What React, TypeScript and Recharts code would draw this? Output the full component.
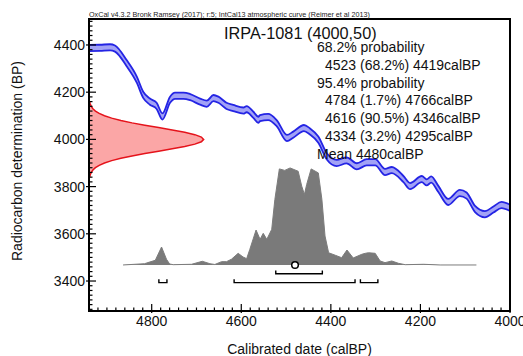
import React from 'react';
import { ComposedChart, Area, Line, Scatter, XAxis, YAxis, ReferenceArea, Label } from 'recharts';

const W = 523;
const H = 356;
const X_MIN = 4000;
const X_MAX = 4940;
const Y_MIN = 3273;
const Y_MAX = 4510;

// IntCal13 curve, calBP -> radiocarbon BP
const curveCal = [4939, 4915, 4893, 4882, 4856, 4833, 4819, 4804, 4789, 4776, 4759, 4748, 4729, 4714, 4692, 4677, 4662, 4651, 4633, 4618, 4595, 4588, 4573, 4562, 4558, 4540, 4521, 4498, 4484, 4460, 4447, 4428, 4409, 4387, 4365, 4342, 4320, 4301, 4279, 4264, 4238, 4223, 4197, 4186, 4176, 4160, 4138, 4112, 4097, 4078, 4056, 4037, 4019, 4000];
const curveBP = [4387, 4388, 4390, 4385, 4323, 4252, 4189, 4160, 4142, 4097, 4168, 4185, 4185, 4179, 4160, 4151, 4175, 4168, 4142, 4133, 4122, 4128, 4104, 4083, 4090, 4095, 4069, 4006, 4020, 4048, 4034, 3999, 3928, 3900, 3911, 3886, 3903, 3903, 3862, 3870, 3832, 3802, 3832, 3818, 3830, 3790, 3735, 3773, 3762, 3705, 3683, 3703, 3722, 3710];
const CURVE_ERR = 13;

// measured date 4000 +/- 50 BP, relative probability
const dateBP = [4160, 4150, 4140, 4130, 4120, 4110, 4100, 4090, 4080, 4070, 4060, 4050, 4040, 4030, 4020, 4010, 4000, 3990, 3980, 3970, 3960, 3950, 3940, 3930, 3920, 3910, 3900, 3890, 3880, 3870, 3860, 3850, 3840];
const dateProb = [0.006, 0.011, 0.02, 0.034, 0.056, 0.089, 0.135, 0.198, 0.278, 0.375, 0.487, 0.607, 0.726, 0.835, 0.923, 0.98, 1, 0.98, 0.923, 0.835, 0.726, 0.607, 0.487, 0.375, 0.278, 0.198, 0.135, 0.089, 0.056, 0.034, 0.02, 0.011, 0.006];

// calibrated distribution, % of peak
const distCal = [4864, 4816, 4804, 4792, 4778, 4767, 4760, 4752, 4711, 4687, 4670, 4659, 4644, 4633, 4622, 4607, 4596, 4588, 4581, 4567, 4558, 4551, 4543, 4532, 4525, 4515, 4503, 4491, 4473, 4465, 4459, 4454, 4444, 4428, 4420, 4413, 4405, 4390, 4376, 4364, 4350, 4331, 4323, 4316, 4301, 4290, 4279, 4264, 4249, 4234, 4193, 4156, 4075];
const distProb = [0, 1.3, 3.1, 4.8, 18.5, 5.9, 1.0, 0.3, 0.7, 3.8, 1.3, 0.5, 3.4, 3.4, 5.9, 12, 8.2, 6.5, 16, 36, 26.4, 32.6, 26.4, 36.7, 67.5, 99, 97.5, 100, 96.6, 81.2, 72.7, 82.9, 99, 94.9, 67.5, 29.8, 12.6, 10, 7.5, 15.4, 7.2, 11, 12, 12.6, 12, 4.1, 2.4, 4.1, 1.7, 0.3, 0.7, 0, 0];

const ranges68 = [[4523, 4419]];
const ranges95 = [[4784, 4766], [4616, 4346], [4334, 4295]];
const MEAN = 4480;

const xMajor = [4800, 4600, 4400, 4200, 4000];
const yMajor = [3400, 3600, 3800, 4000, 4200, 4400];

const title = 'IRPA-1081 (4000,50)';
const header = 'OxCal v4.3.2 Bronk Ramsey (2017); r:5; IntCal13 atmospheric curve (Reimer et al 2013)';
const probLines = [
  { text: '68.2% probability', indent: false },
  { text: '4523 (68.2%) 4419calBP', indent: true },
  { text: '95.4% probability', indent: false },
  { text: '4784 (1.7%) 4766calBP', indent: true },
  { text: '4616 (90.5%) 4346calBP', indent: true },
  { text: '4334 (3.2%) 4295calBP', indent: true },
  { text: 'Mean 4480calBP', indent: false },
];

// drawing constants
const DATE_WIDTH = 256; // calBP units for peak of the red curve
const DIST_BASE = 3468;
const DIST_SCALE = 4.11; // BP per % of peak
const B95 = 3393;
const B68 = 3431;
const BTICK = 14;

const FONT = '"Liberation Sans", Arial, sans-serif';

const curveData = curveCal.map((x, i) => ({ x, lo: curveBP[i] - CURVE_ERR, hi: curveBP[i] + CURVE_ERR }));
const dateData = dateBP.map((y, i) => ({ x: X_MAX - dateProb[i] * DATE_WIDTH, y }));
const distData = distCal.map((x, i) => ({ x, y: DIST_BASE + distProb[i] * DIST_SCALE }));
const bracket = (r: number[], base: number) => [
  { x: r[0], y: base + BTICK },
  { x: r[0], y: base },
  { x: r[1], y: base },
  { x: r[1], y: base + BTICK },
];

const xTicks: number[] = [];
for (let v = X_MIN; v <= X_MAX; v += 20) xTicks.push(v);
const yTicks: number[] = [];
for (let v = 3280; v <= 4500; v += 20) yTicks.push(v);

const XTick = (props: any) => {
  const { x, y, payload } = props;
  const major = xMajor.includes(payload.value);
  return (
    <g>
      <line x1={x} x2={x} y1={y + (major ? 2 : 0)} y2={y - (major ? 7 : 3.5)} stroke="#000" strokeWidth={1.2} />
      {major && (
        <text x={x} y={y + 15} textAnchor="middle" fontSize={14} fontFamily={FONT} fill="#111">
          {payload.value}
        </text>
      )}
    </g>
  );
};

const YTick = (props: any) => {
  const { x, y, payload } = props;
  const major = yMajor.includes(payload.value);
  return (
    <g>
      <line x1={x - (major ? 3 : 0)} x2={x + (major ? 7 : 3.5)} y1={y} y2={y} stroke="#000" strokeWidth={1.2} />
      {major && (
        <text x={x - 4} y={y + 5} textAnchor="end" fontSize={14} fontFamily={FONT} fill="#111">
          {payload.value}
        </text>
      )}
    </g>
  );
};

const App: React.FC = () => {
  return (
    <div style={{ position: 'absolute', left: 0, top: 0, width: W, height: H, background: '#fff' }}>
      <ComposedChart width={W} height={H} margin={{ top: 19, right: 13, bottom: 0, left: 0 }}>
        <XAxis
          type="number"
          dataKey="x"
          domain={[X_MIN, X_MAX]}
          reversed
          allowDataOverflow
          ticks={xTicks}
          interval={0}
          tickSize={0}
          tickMargin={0}
          tickLine={false}
          axisLine={false}
          tick={<XTick />}
          height={45}
        >
          <Label
            content={(p: any) => {
              const vb = p.viewBox;
              return (
                <text x={vb.x + vb.width / 2} y={vb.y + 43} textAnchor="middle" fontSize={14} fontFamily={FONT} fill="#111">
                  Calibrated date (calBP)
                </text>
              );
            }}
          />
        </XAxis>
        <YAxis
          type="number"
          dataKey="y"
          domain={[Y_MIN, Y_MAX]}
          allowDataOverflow
          ticks={yTicks}
          interval={0}
          tickSize={0}
          tickMargin={0}
          tickLine={false}
          axisLine={false}
          tick={<YTick />}
          width={89}
        >
          <Label
            content={() => (
              <text x={22} y={161} transform="rotate(-90 22 161)" textAnchor="middle" fontSize={14} fontFamily={FONT} fill="#111">
                Radiocarbon determination (BP)
              </text>
            )}
          />
        </YAxis>

        <Area
          data={dateData}
          dataKey="y"
          type="linear"
          baseValue={3840}
          stroke="#e5131b"
          strokeWidth={1.5}
          fill="#fba6a6"
          fillOpacity={1}
          isAnimationActive={false}
          dot={false}
          activeDot={false}
        />
        <Area
          data={curveData}
          dataKey={(d: any) => [d.lo, d.hi]}
          type="monotone"
          stroke="#2424e4"
          strokeWidth={1.8}
          fill="#a2a2f6"
          fillOpacity={1}
          isAnimationActive={false}
          dot={false}
          activeDot={false}
        />
        <Area
          data={distData}
          dataKey="y"
          type="linear"
          baseValue={DIST_BASE}
          stroke="#7c7c7c"
          strokeWidth={1}
          fill="#7a7a7a"
          fillOpacity={1}
          isAnimationActive={false}
          dot={false}
          activeDot={false}
        />
        {ranges68.map((r, i) => (
          <Line key={`r68-${i}`} data={bracket(r, B68)} dataKey="y" type="linear" stroke="#000" strokeWidth={1.4} dot={false} activeDot={false} isAnimationActive={false} />
        ))}
        {ranges95.map((r, i) => (
          <Line key={`r95-${i}`} data={bracket(r, B95)} dataKey="y" type="linear" stroke="#000" strokeWidth={1.4} dot={false} activeDot={false} isAnimationActive={false} />
        ))}
        <Scatter
          data={[{ x: MEAN, y: DIST_BASE }]}
          dataKey="y"
          isAnimationActive={false}
          shape={(p: any) => <circle cx={p.cx} cy={p.cy} r={3.3} fill="#fff" stroke="#000" strokeWidth={1.5} />}
        />
        <ReferenceArea x1={X_MIN} x2={X_MAX} y1={Y_MIN} y2={Y_MAX} fill="none" stroke="#000" strokeWidth={2} ifOverflow="visible" />
      </ComposedChart>
      <svg width={W} height={H} style={{ position: 'absolute', left: 0, top: 0, pointerEvents: 'none' }}>
        <text x={89} y={16.5} fontSize={7.2} fontFamily={FONT} fill="#222">
          {header}
        </text>
        <text x={224} y={39} fontSize={16.3} fontFamily={FONT} fill="#111">
          {title}
        </text>
        {probLines.map((l, i) => (
          <text key={i} x={l.indent ? 325 : 317} y={52.3 + i * 17.7} fontSize={14} fontFamily={FONT} fill="#111">
            {l.text}
          </text>
        ))}
      </svg>
    </div>
  );
};

export default App;
